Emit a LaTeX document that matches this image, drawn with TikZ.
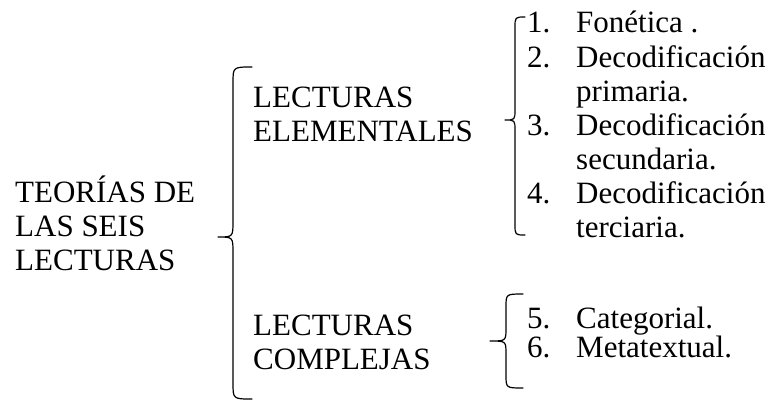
\documentclass[tikz,border=0pt]{standalone}
\usepackage{fontspec}
\setmainfont{Liberation Serif}
\newfontfamily\timesfont{Liberation Serif}
\usepackage{xcolor}
\usepackage{tikz}
\definecolor{ink}{HTML}{000000}
\tikzset{
  heading/.style={
    anchor=base west,
    inner sep=0pt,
    align=left,
    text=ink,
    font=\timesfont\fontsize{31}{34}\selectfont
  },
  itemnum/.style={heading},
  itemtext/.style={heading},
  bracestroke/.style={draw=ink, line width=1.2pt, line join=round, line cap=round}
}
% left curly brace: line x, hook x, tip x, top y, bottom y, middle y, hook size
\newcommand{\curly}[7]{%
  \draw[bracestroke] (#2,#4) .. controls (#1,#4) .. (#1,#4-#7)
    -- (#1,#6+#7) .. controls (#1,#6) .. (#3,#6)
    .. controls (#1,#6) .. (#1,#6-#7)
    -- (#1,#5+#7) .. controls (#1,#5) .. (#2,#5);
}

\begin{document}
\begin{tikzpicture}[x=1pt,y=1pt]
\path[use as bounding box] (0,0) rectangle (773,400);
\fill[white] (0,0) rectangle (773,400);

% multi-line nodes sit on their last baseline
\node[heading] (theory) at (15,130) {TEORÍAS DE\\LAS SEIS\\LECTURAS};
\curly{233}{252}{218}{333}{1}{163}{16}

\node[heading] (elem) at (253,259) {LECTURAS\\ELEMENTALES};
\node[heading] (complex) at (253,31) {LECTURAS\\COMPLEJAS};

% elementales
\curly{515}{525}{505}{383}{165}{280}{11}
\node[itemnum] (n1) at (527,367) {1.};
\node[itemtext] (f1) at (576,367) {Fonética .};
\node[itemnum] (n2) at (527,333) {2.};
\node[itemtext] (f2) at (576,299) {Decodificación\\primaria.};
\node[itemnum] (n3) at (527,265) {3.};
\node[itemtext] (f3) at (576,231) {Decodificación\\secundaria.};
\node[itemnum] (n4) at (527,197) {4.};
\node[itemtext] (f4) at (576,163) {Decodificación\\terciaria.};

% complejas
\curly{506}{523}{490}{106}{12}{59}{13}
\node[itemnum] (n5) at (527,72) {5.};
\node[itemtext] (f5) at (576,72) {Categorial.};
\node[itemnum] (n6) at (527,43) {6.};
\node[itemtext] (f6) at (576,43) {Metatextual.};

\end{tikzpicture}
\end{document}
